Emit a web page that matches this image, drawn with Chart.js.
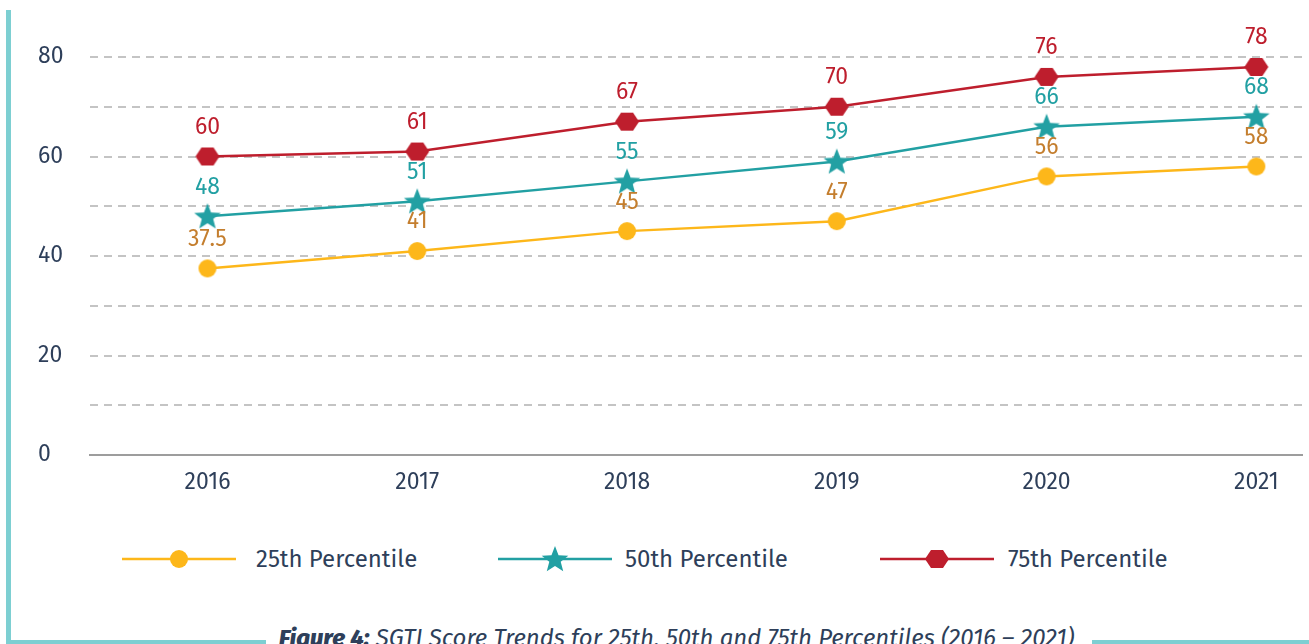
<!DOCTYPE html>
<html>
<head>
<meta charset="utf-8">
<script src="https://cdn.jsdelivr.net/npm/chart.js@4.4.1/dist/chart.umd.min.js"></script>
<style>
  body { margin: 0; background: #fff; font-family: "Fira Sans", "Open Sans", sans-serif; }
  #page { position: relative; width: 1309px; height: 644px; overflow: hidden; }
  #chartBox { position: absolute; left: 0; top: 0; width: 1309px; height: 510px; }
  #leftBar { position: absolute; left: 6px; top: 10px; width: 5px; height: 640px; background: #7dcfd2; }
  .bottomBar { position: absolute; top: 640px; height: 4px; background: #7dcfd2; }
  .legendItem { position: absolute; top: 545px; height: 28px; display: flex; align-items: center; font-size: 24px; color: #2e3f5a; }
  #caption { position: absolute; top: 624px; left: 0; width: 1353px; text-align: center; font-size: 24px; font-style: italic; color: #2e3f5a; white-space: nowrap; }
  #caption b { font-weight: 800; }
</style>
</head>
<body>
<div id="page">
  <div id="leftBar"></div>
  <div class="bottomBar" style="left:6px;width:260px"></div>
  <div class="bottomBar" style="left:1092px;width:217px"></div>
  <div id="chartBox"><canvas id="scoreChart"></canvas></div>
  <div id="legend"></div>
  <div id="caption"><b>Figure 4:</b> SGTI Score Trends for 25th, 50th and 75th Percentiles (2016 – 2021)</div>
</div>
<script>
// data
const years = [2016, 2017, 2018, 2019, 2020, 2021];
const p25 = [37.5, 41, 45, 47, 56, 58];
const p50 = [48, 51, 55, 59, 66, 68];
const p75 = [60, 61, 67, 70, 76, 78];
const seriesNames = ['25th Percentile', '50th Percentile', '75th Percentile'];
const yTicks = [0, 10, 20, 30, 40, 50, 60, 70, 80];

const YELLOW = '#fdb71a';
const TEAL = '#22a0a3';
const RED = '#be1e2d';
const FONT = '"Fira Sans", "Open Sans", sans-serif';

// custom marker shapes
function makeMarker(kind, color) {
    const c = document.createElement('canvas');
    c.width = 30; c.height = 30;
    const g = c.getContext('2d');
    g.fillStyle = color;
    g.beginPath();
    if (kind === 'circle') {
        g.arc(15, 15, 9, 0, Math.PI * 2);
    } else if (kind === 'star') {
        for (let i = 0; i < 10; i++) {
            const r = i % 2 === 0 ? 14 : 6;
            const a = -Math.PI / 2 + i * Math.PI / 5;
            const x = 15 + r * Math.cos(a), y = 16 + r * Math.sin(a);
            i === 0 ? g.moveTo(x, y) : g.lineTo(x, y);
        }
    } else {
        // hexagon, pointy left/right
        for (let i = 0; i < 6; i++) {
            const a = i * Math.PI / 3;
            const x = 15 + 12 * Math.cos(a), y = 15 + 10.5 * Math.sin(a);
            i === 0 ? g.moveTo(x, y) : g.lineTo(x, y);
        }
    }
    g.closePath();
    g.fill();
    return c;
}

const markers = [makeMarker('circle', YELLOW), makeMarker('star', TEAL), makeMarker('hex', RED)];
const lineColors = [YELLOW, TEAL, RED];
const labelColors = ['#c47e2e', TEAL, RED];
const values = [p25, p50, p75];

// value labels above points
const valueLabels = {
    id: 'valueLabels',
    afterDatasetsDraw(chart) {
        const ctx = chart.ctx;
        ctx.save();
        ctx.font = '23px ' + FONT;
        ctx.textAlign = 'center';
        ctx.textBaseline = 'middle';
        chart.data.datasets.forEach((ds, i) => {
            chart.getDatasetMeta(i).data.forEach((pt, j) => {
                ctx.fillStyle = labelColors[i];
                ctx.fillText(String(values[i][j]), pt.x, pt.y - 29);
            });
        });
        ctx.restore();
    }
};

const ctx = document.getElementById('scoreChart').getContext('2d');
const scoreChart = new Chart(ctx, {
    type: 'line',
    data: {
        datasets: values.map((arr, i) => ({
            label: seriesNames[i],
            data: arr.map((v, j) => ({ x: years[j], y: v })),
            borderColor: lineColors[i],
            backgroundColor: lineColors[i],
            borderWidth: 2.5,
            pointStyle: markers[i],
            clip: false,
            tension: 0
        }))
    },
    options: {
        responsive: true,
        maintainAspectRatio: false,
        animation: false,
        layout: { padding: { left: 38, top: 57, right: 0, bottom: 0 } },
        plugins: {
            legend: { display: false },
            tooltip: { enabled: false }
        },
        scales: {
            x: {
                type: 'linear',
                min: 2015.44,
                max: 2021.22,
                afterBuildTicks: function (scale) {
                    scale.ticks = years.map(y => ({ value: y }));
                },
                afterFit: function (scale) { scale.height = 55; },
                grid: { display: false, drawTicks: false },
                border: { display: true, color: '#9d9d9d', width: 2 },
                ticks: {
                    padding: 14,
                    color: '#2e3f5a',
                    font: { size: 23, family: FONT },
                    callback: v => String(v)
                }
            },
            y: {
                min: 0,
                max: 80,
                afterBuildTicks: function (scale) {
                    scale.ticks = yTicks.map(v => ({ value: v }));
                },
                afterFit: function (scale) { scale.width = 52; },
                grid: {
                    drawTicks: false,
                    lineWidth: 2,
                    color: c => c.tick && c.tick.value === 0 ? 'rgba(0,0,0,0)' : '#c4c4c4'
                },
                border: { display: false, dash: [8, 6] },
                ticks: {
                    crossAlign: 'far',
                    padding: 0,
                    color: '#2e3f5a',
                    font: { size: 23, family: FONT },
                    callback: v => (v % 20 === 0 ? String(v) : '')
                }
            }
        }
    },
    plugins: [valueLabels]
});

// legend
const legendPos = [122, 498, 880];
const legendGap = [20, 13, 14];
const legend = document.getElementById('legend');
seriesNames.forEach((name, i) => {
    const item = document.createElement('div');
    item.className = 'legendItem';
    item.style.left = legendPos[i] + 'px';
    const icon = document.createElement('canvas');
    icon.width = 114; icon.height = 28;
    icon.style.marginRight = legendGap[i] + 'px';
    const g = icon.getContext('2d');
    g.strokeStyle = lineColors[i];
    g.lineWidth = 2.5;
    g.beginPath(); g.moveTo(0, 14); g.lineTo(114, 14); g.stroke();
    g.drawImage(markers[i], 57 - 15, 14 - 15);
    item.appendChild(icon);
    const txt = document.createElement('span');
    txt.textContent = name;
    item.appendChild(txt);
    legend.appendChild(item);
});
</script>
</body>
</html>
